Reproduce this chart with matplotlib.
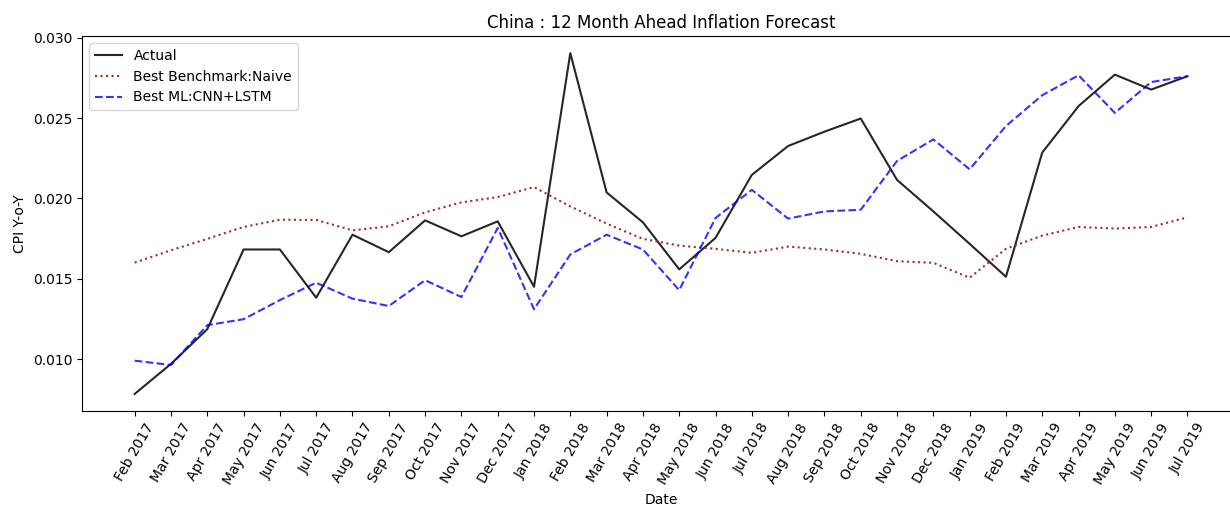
import matplotlib
matplotlib.use('Agg')
import matplotlib.pyplot as plt

# ===== 数据 =====
months = ['Feb 2017', 'Mar 2017', 'Apr 2017', 'May 2017', 'Jun 2017', 'Jul 2017',
          'Aug 2017', 'Sep 2017', 'Oct 2017', 'Nov 2017', 'Dec 2017', 'Jan 2018',
          'Feb 2018', 'Mar 2018', 'Apr 2018', 'May 2018', 'Jun 2018', 'Jul 2018',
          'Aug 2018', 'Sep 2018', 'Oct 2018', 'Nov 2018', 'Dec 2018', 'Jan 2019',
          'Feb 2019', 'Mar 2019', 'Apr 2019', 'May 2019', 'Jun 2019', 'Jul 2019']

actual = [0.00783, 0.0097, 0.01186, 0.01682, 0.01682, 0.01382,
          0.01774, 0.01665, 0.01863, 0.01764, 0.01857, 0.0145,
          0.02904, 0.02037, 0.01851, 0.01558, 0.01754, 0.02146,
          0.02326, 0.02415, 0.02497, 0.02115, 0.01919, 0.01717,
          0.01512, 0.02285, 0.02574, 0.0277, 0.02677, 0.0276]

naive = [0.0160, 0.01677, 0.01748, 0.01822, 0.01867, 0.01866,
         0.01801, 0.01826, 0.01913, 0.01975, 0.02008, 0.0207,
         0.0195, 0.01843, 0.01748, 0.01706, 0.01686, 0.01661,
         0.0170, 0.01682, 0.01655, 0.01609, 0.01599, 0.01506,
         0.01686, 0.01768, 0.01822, 0.01812, 0.01822, 0.01882]

cnn_lstm = [0.0099, 0.00963, 0.01211, 0.01248, 0.01367, 0.01475,
            0.01376, 0.0133, 0.01491, 0.01386, 0.01816, 0.0131,
            0.01651, 0.01774, 0.01682, 0.01429, 0.01878, 0.02053,
            0.01874, 0.01919, 0.01929, 0.02233, 0.02367, 0.02181,
            0.0245, 0.02642, 0.02766, 0.02532, 0.02724, 0.0276]

# ===== 绘图 =====
fig = plt.figure(figsize=(12.3, 5.08), dpi=100)
ax = fig.add_axes([0.0667, 0.191, 0.9415, 0.738])

ax.plot(months, actual, color='k', alpha=0.85, label='Actual')
ax.plot(months, naive, color='brown', linestyle=':', label='Best Benchmark:Naive')
ax.plot(months, cnn_lstm, color='b', alpha=0.8, linestyle='--', label='Best ML:CNN+LSTM')

ax.set_title('China : 12 Month Ahead Inflation Forecast')
ax.set_xlabel('Date')
ax.set_ylabel('CPI Y-o-Y')
ax.set_yticks([0.010, 0.015, 0.020, 0.025, 0.030])
plt.setp(ax.get_xticklabels(), rotation=60)
ax.legend(loc='upper left')

fig.savefig('out.png', dpi=100)
